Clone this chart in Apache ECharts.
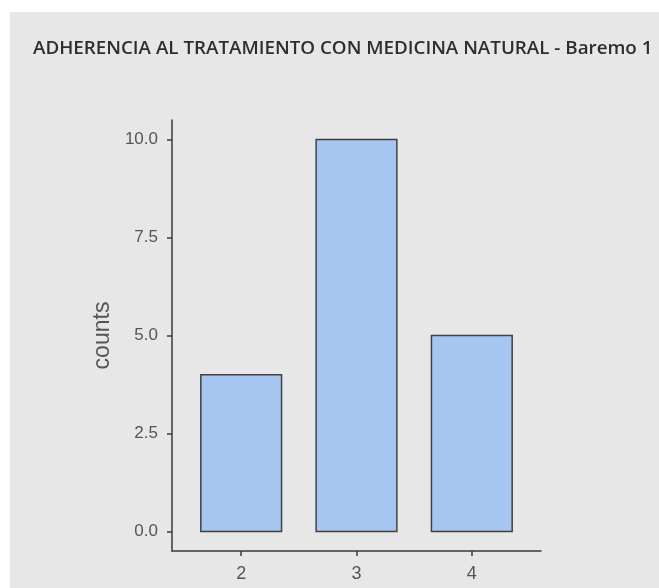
<!DOCTYPE html>
<html>
<head>
<meta charset="utf-8">
<script src="https://cdn.jsdelivr.net/npm/echarts@6/dist/echarts.min.js"></script>
<style>html,body{margin:0;padding:0;background:#fff}#c{width:659px;height:588px}</style>
</head>
<body>
<div id="c"></div>
<script>
var categories = [2, 3, 4];
var counts = [4, 10, 5];
var yTicks = [0, 2.5, 5, 7.5, 10];
var titleText = 'ADHERENCIA AL TRATAMIENTO CON MEDICINA NATURAL - Baremo 1';
var yName = 'counts';

var chart = echarts.init(document.getElementById('c'), null, {renderer: 'canvas'});
var data = categories.map(function (c, i) { return [c, counts[i]]; });
var barHalf = 0.35;
var axisCol = '#3a3a3a';
var labelCol = '#555555';

chart.setOption({
  backgroundColor: '#ffffff',
  animation: false,
  graphic: [{
    type: 'rect', left: 10, top: 12, z: -10,
    shape: {width: 649, height: 576},
    style: {fill: '#e7e7e7'}
  }],
  title: {
    text: titleText,
    left: 28, top: 34,
    textStyle: {fontFamily: 'Open Sans', fontWeight: 600, fontSize: 18.8, color: '#2e2e2e'}
  },
  grid: {left: 172, right: 118, top: 120, bottom: 37},
  xAxis: {
    type: 'value', min: 1.4, max: 4.6,
    splitLine: {show: false},
    axisLine: {show: true, onZero: false, lineStyle: {color: axisCol, width: 1.5}},
    axisTick: {show: true, length: 5, customValues: categories, lineStyle: {color: axisCol, width: 1.5}},
    axisLabel: {customValues: categories, margin: 14, color: labelCol, fontSize: 18, fontFamily: 'Liberation Sans'}
  },
  yAxis: {
    type: 'value', min: -0.5, max: 10.5,
    name: yName, nameLocation: 'middle', nameGap: 58,
    nameTextStyle: {fontSize: 23, color: labelCol, fontFamily: 'Liberation Sans'},
    splitLine: {show: false},
    axisLine: {show: true, onZero: false, lineStyle: {color: axisCol, width: 1.5}},
    axisTick: {show: true, length: 5, customValues: yTicks, lineStyle: {color: axisCol, width: 1.5}},
    axisLabel: {customValues: yTicks, margin: 14, color: labelCol, fontSize: 17, fontFamily: 'Liberation Sans',
      formatter: function (v) { return Number(v).toFixed(1); }}
  },
  series: [{
    type: 'custom',
    data: data,
    renderItem: function (params, api) {
      var x = api.value(0), y = api.value(1);
      var p1 = api.coord([x - barHalf, y]);
      var p2 = api.coord([x + barHalf, 0]);
      return {
        type: 'rect',
        shape: {x: p1[0], y: p1[1], width: p2[0] - p1[0], height: p2[1] - p1[1]},
        style: {fill: '#a6c5f1', stroke: '#404040', lineWidth: 1.5}
      };
    }
  }]
});
</script>
</body>
</html>
